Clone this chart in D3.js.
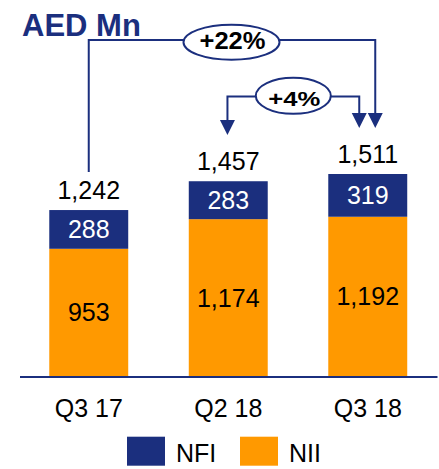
<!DOCTYPE html>
<html>
<head>
<meta charset="utf-8">
<script src="https://cdn.jsdelivr.net/npm/d3@7"></script>
<style>
  html, body { margin: 0; padding: 0; background: #fff; }
  svg { display: block; }
  text { font-family: "Liberation Sans", Arial, sans-serif; }
</style>
</head>
<body>
<div id="chart"></div>
<script>
// ---- data ----
const categories = ["Q3 17", "Q2 18", "Q3 18"];
const nii = [953, 1174, 1192];
const nfi = [288, 283, 319];
const totals = [1242, 1457, 1511];
const seriesNames = ["NFI", "NII"];
const growthLabels = ["+22%", "+4%"];
const growthFrom = ["Q3 17", "Q2 18"];
const growthTo = ["Q3 18", "Q3 18"];
const title = "AED Mn";

// ---- style ----
const NAVY = "#1b2f7e";
const ORANGE = "#ff9900";
const W = 439, H = 469;
const fmt = d3.format(",");

const svg = d3.select("#chart").append("svg")
  .attr("width", W).attr("height", H);

const x = d3.scaleBand().domain(categories)
  .range([19, 437.5]).paddingInner(0.434).paddingOuter(0.217);
const y = d3.scaleLinear().domain([0, 1511]).range([376.5, 174]);

const rows = categories.map((c, i) => ({ c, nii: nii[i], nfi: nfi[i], total: totals[i] }));

// bars: NII bottom
svg.selectAll("rect.nii").data(rows).join("rect")
  .attr("x", d => x(d.c)).attr("width", x.bandwidth())
  .attr("y", d => y(d.nii)).attr("height", d => y(0) - y(d.nii))
  .attr("fill", ORANGE);
// NFI top (stacked up to total)
svg.selectAll("rect.nfi").data(rows).join("rect")
  .attr("x", d => x(d.c)).attr("width", x.bandwidth())
  .attr("y", d => y(d.total)).attr("height", d => y(d.nii) - y(d.total))
  .attr("fill", NAVY);

// axis line
svg.append("line")
  .attr("x1", x.range()[0] + 1).attr("x2", x.range()[1])
  .attr("y1", y(0) + 0.5).attr("y2", y(0) + 0.5)
  .attr("stroke", NAVY).attr("stroke-width", 2.2);

const cx = c => x(c) + x.bandwidth() / 2;

// segment labels
svg.selectAll("text.nfi").data(rows).join("text")
  .attr("x", d => cx(d.c)).attr("y", d => (y(d.total) + y(d.nii)) / 2 + 8.8)
  .attr("text-anchor", "middle").attr("font-size", 25).attr("fill", "#fff")
  .text(d => fmt(d.nfi));
svg.selectAll("text.nii").data(rows).join("text")
  .attr("x", d => cx(d.c)).attr("y", d => (y(d.nii) + y(0)) / 2 + 8.8)
  .attr("text-anchor", "middle").attr("font-size", 25).attr("fill", "#000")
  .text(d => fmt(d.nii));
// totals
svg.selectAll("text.tot").data(rows).join("text")
  .attr("x", d => cx(d.c)).attr("y", d => y(d.total) - 11)
  .attr("text-anchor", "middle").attr("font-size", 25).attr("fill", "#000")
  .text(d => fmt(d.total));

// category labels
svg.selectAll("text.cat").data(categories).join("text")
  .attr("x", d => cx(d)).attr("y", 417)
  .attr("text-anchor", "middle").attr("font-size", 25).attr("fill", "#000")
  .text(d => d);

// legend
const legend = [
  { name: seriesNames[0], color: NAVY, x: 127 },
  { name: seriesNames[1], color: ORANGE, x: 240 }
];
const lg = svg.selectAll("g.leg").data(legend).join("g");
lg.append("rect").attr("x", d => d.x).attr("y", 436.7).attr("width", 38).attr("height", 29)
  .attr("fill", d => d.color);
lg.append("text").attr("x", d => d.x + 49).attr("y", 461.5)
  .attr("font-size", 25).attr("fill", "#000").text(d => d.name);

// title
svg.append("text").attr("x", 22).attr("y", 35.5)
  .attr("font-size", 31).attr("font-weight", "bold").attr("fill", NAVY)
  .text(title);

// growth brackets
const arrowHead = (xt, yt) => {
  svg.append("path")
    .attr("d", `M${xt - 7.5},${yt - 15} L${xt + 7.5},${yt - 15} L${xt},${yt} Z`)
    .attr("fill", NAVY);
};
const brackets = [
  { label: growthLabels[0], from: growthFrom[0], to: growthTo[0], fromArrow: false,
    x1: cx(growthFrom[0]), x2: cx(growthTo[0]) + 7.5, yLine: 40, y1End: 172, y1Tip: 128, y2Tip: 128,
    ex: 231.5, ey: 42.3, rx: 48, ry: 17.5, fs: 23, tl: 66, ty: 48.5 },
  { label: growthLabels[1], from: growthFrom[1], to: growthTo[1], fromArrow: true,
    x1: cx(growthFrom[1]) - 0.8, x2: cx(growthTo[1]) - 8.5, yLine: 96.5, y1End: null, y1Tip: 135, y2Tip: 128,
    ex: 293.3, ey: 95.8, rx: 37.5, ry: 18, fs: 21, tl: 52, ty: 105.5 }
];
brackets.forEach(b => {
  const yStart = b.fromArrow ? b.y1Tip - 14 : b.y1End;
  svg.append("path")
    .attr("d", `M${b.x1},${yStart} L${b.x1},${b.yLine} L${b.x2},${b.yLine} L${b.x2},${b.y2Tip - 14}`)
    .attr("fill", "none").attr("stroke", NAVY).attr("stroke-width", 2);
  if (b.fromArrow) arrowHead(b.x1, b.y1Tip);
  arrowHead(b.x2, b.y2Tip);
  svg.append("ellipse").attr("cx", b.ex).attr("cy", b.ey).attr("rx", b.rx).attr("ry", b.ry)
    .attr("fill", "#fff").attr("stroke", NAVY).attr("stroke-width", 2);
  svg.append("text").attr("x", b.ex + 1).attr("y", b.ty)
    .attr("text-anchor", "middle").attr("font-size", b.fs).attr("font-weight", "bold")
    .attr("textLength", b.tl).attr("lengthAdjust", "spacingAndGlyphs")
    .attr("fill", "#000").text(b.label);
});
</script>
</body>
</html>
